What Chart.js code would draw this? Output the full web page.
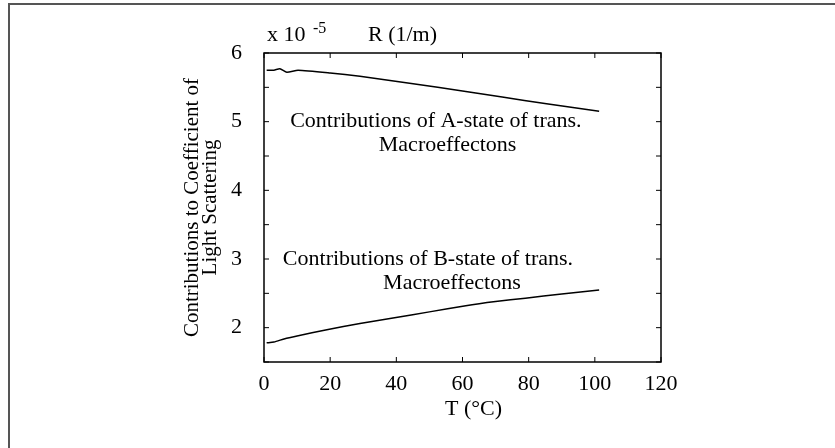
<!DOCTYPE html>
<html>
<head>
<meta charset="utf-8">
<script src="https://cdn.jsdelivr.net/npm/chart.js@4.4.1/dist/chart.umd.min.js"></script>
<style>
    html, body { margin: 0; padding: 0; background: #fff; }
    #wrap { position: relative; width: 835px; height: 448px; overflow: hidden; }
    #frame { position: absolute; left: 8px; top: 3px; width: 900px; height: 500px; border-left: 2px solid #555; border-top: 2px solid #555; }
    canvas { position: absolute; left: 0; top: 0; }
</style>
</head>
<body>
<div id="wrap">
    <div id="frame"></div>
    <canvas id="graficoEspalhamento" width="835" height="448"></canvas>
</div>
<script>
// curve A (upper) and curve B (lower), x in degrees C, y in 10^-5 1/m
const tempA = [0.8, 3, 4.8, 6.9, 10.3, 20, 29, 44, 61, 72, 85.4, 101.3];
const valoresA = [5.75, 5.75, 5.77, 5.72, 5.75, 5.71, 5.66, 5.56, 5.44, 5.36, 5.26, 5.15];
const tempB = [0.8, 3, 6.3, 10, 19, 29, 39, 50, 61, 70, 79, 90, 101.3];
const valoresB = [1.78, 1.79, 1.84, 1.88, 1.97, 2.06, 2.14, 2.23, 2.32, 2.38, 2.43, 2.49, 2.55];
const ticksX = [0, 20, 40, 60, 80, 100, 120];
const ticksY = [2, 3, 4, 5, 6];

const fonte = '"Liberation Serif", "DejaVu Serif", serif';

function pontos(xs, ys) {
    return xs.map((x, i) => ({ x: x, y: ys[i] }));
}

// frame, inward ticks and the text inside the plot
const moldura = {
    id: 'moldura',
    afterDatasetsDraw(chart) {
        const { ctx, chartArea: a, scales: { x, y } } = chart;
        ctx.save();
        ctx.strokeStyle = '#000';
        ctx.lineWidth = 1.5;
        ctx.strokeRect(a.left, a.top, a.right - a.left, a.bottom - a.top);

        ctx.beginPath();
        x.ticks.forEach(t => {
            const px = x.getPixelForValue(t.value);
            ctx.moveTo(px, a.bottom); ctx.lineTo(px, a.bottom - 5);
            ctx.moveTo(px, a.top); ctx.lineTo(px, a.top + 5);
        });
        y.ticks.forEach(t => {
            const py = y.getPixelForValue(t.value);
            ctx.moveTo(a.left, py); ctx.lineTo(a.left + 5, py);
            ctx.moveTo(a.right, py); ctx.lineTo(a.right - 5, py);
        });
        ctx.lineWidth = 1;
        ctx.stroke();

        ctx.fillStyle = '#000';
        ctx.textBaseline = 'middle';
        ctx.font = '22px ' + fonte;
        ctx.textAlign = 'left';
        ctx.fillText('Contributions of A-state of trans.', x.getPixelForValue(7.9), y.getPixelForValue(5.0));
        ctx.fillText('Contributions of B-state of trans.', x.getPixelForValue(5.7), y.getPixelForValue(3.0));
        ctx.textAlign = 'center';
        ctx.fillText('Macroeffectons', x.getPixelForValue(55.5), y.getPixelForValue(4.66));
        ctx.fillText('Macroeffectons', x.getPixelForValue(56.8), y.getPixelForValue(2.65));

        // units over the plot
        ctx.textAlign = 'left';
        ctx.textBaseline = 'alphabetic';
        ctx.font = '22px ' + fonte;
        ctx.fillText('x 10', a.left + 3, a.top - 12);
        ctx.font = '16px ' + fonte;
        ctx.fillText('-5', a.left + 49, a.top - 20);
        ctx.font = '22px ' + fonte;
        ctx.fillText('R (1/m)', a.left + 104, a.top - 12);
        ctx.restore();
    }
};

const ctxGrafico = document.getElementById('graficoEspalhamento').getContext('2d');
const grafico = new Chart(ctxGrafico, {
    type: 'line',
    data: {
        datasets: [
            { label: 'A-state', data: pontos(tempA, valoresA), borderColor: '#000', borderWidth: 1.5, pointRadius: 0, tension: 0.2, fill: false },
            { label: 'B-state', data: pontos(tempB, valoresB), borderColor: '#000', borderWidth: 1.5, pointRadius: 0, tension: 0.2, fill: false }
        ]
    },
    options: {
        responsive: false,
        maintainAspectRatio: false,
        animation: false,
        layout: { padding: { left: 180, right: 174, top: 53, bottom: 25 } },
        plugins: { legend: { display: false }, tooltip: { enabled: false } },
        scales: {
            x: {
                type: 'linear',
                min: 0,
                max: 120,
                afterBuildTicks: s => { s.ticks = ticksX.map(v => ({ value: v })); },
                afterFit: s => { s.height = 61; },
                grid: { display: false },
                border: { display: false },
                ticks: { color: '#000', padding: 1, font: { family: fonte, size: 22 } },
                title: { display: true, text: '    T (°C)', color: '#000', padding: { top: 0, bottom: 3 }, font: { family: fonte, size: 22, lineHeight: 1 } }
            },
            y: {
                min: 1.5,
                max: 6,
                ticks: {
                    stepSize: 0.5,
                    color: '#000',
                    padding: 14,
                    font: { family: fonte, size: 22 },
                    callback: v => ticksY.includes(v) ? v : ''
                },
                afterFit: s => { s.width = 84; },
                grid: { display: false },
                border: { display: false },
                title: {
                    display: true,
                    text: ['Contributions to Coefficient of', 'Light Scattering'],
                    color: '#000',
                    padding: { top: 4, bottom: 0 },
                    font: { family: fonte, size: 21, lineHeight: 0.85 }
                }
            }
        }
    },
    plugins: [moldura]
});
</script>
</body>
</html>
